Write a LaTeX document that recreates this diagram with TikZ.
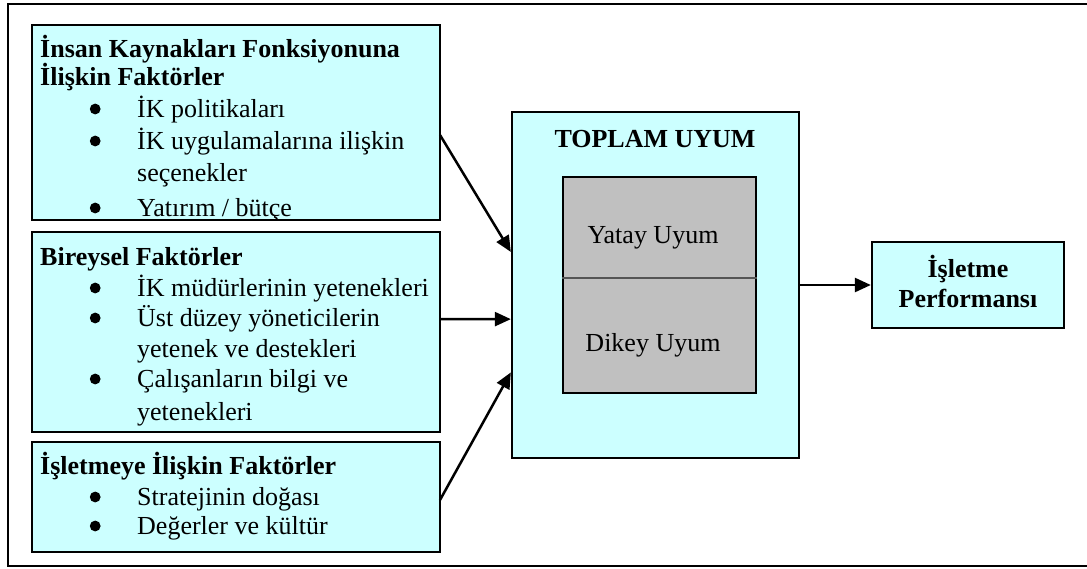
\documentclass[tikz,border=0pt]{standalone}
\usepackage{fontspec}
\setmainfont{Liberation Serif}
\usetikzlibrary{arrows.meta,calc}

\definecolor{paleCyan}{HTML}{CCFFFF}
\definecolor{fitGray}{HTML}{C0C0C0}
\definecolor{rule}{HTML}{555555}

% list helpers: round bullet centred 55pt in, item text 97pt in
\newcommand{\dotmark}{\raisebox{2.6pt}{\tikz\fill (0pt,0pt) circle (5.4pt);}}
\newcommand{\bitem}{\hspace*{55pt}\makebox[0pt]{\dotmark}\hspace*{42pt}}
\newcommand{\bcont}{\hspace*{97pt}}
\newcommand{\bodyfont}{\fontsize{26}{31}\selectfont}

\tikzset{
  panel/.style={fill=paleCyan, inner sep=0pt, outer sep=0pt},
  panelline/.style={draw=black, line width=2.5pt},
  box/.style={draw=black, fill=paleCyan, line width=2.3pt, inner sep=0pt},
  fitbox/.style={draw=black, fill=fitGray, line width=2.3pt, inner sep=0pt},
  label/.style={anchor=base, inner sep=0pt, font=\bodyfont},
  listtext/.style={anchor=base west, inner sep=0pt},
  flow/.style={line width=2.5pt, -{Triangle[length=16pt,width=14pt]}}
}

\begin{document}
\begin{tikzpicture}[x=1pt, y=-1pt]
\useasboundingbox (0,0) rectangle (1087,568);

% outer frame (runs past the right edge)
\draw[line width=2pt] (8,4) rectangle (1110,566);

% ---- left column: factor panels ----
\node[panel, minimum width=408pt, minimum height=195pt] (b1) at (236,122.5) {};
\node[panel, minimum width=408pt, minimum height=200pt] (b2) at (236,332) {};
\node[panel, minimum width=408pt, minimum height=110pt] (b3) at (236,497) {};

\begin{scope}
  \clip (b1.north west) rectangle (b1.south east);
  \node[listtext] (t1) at ($(b1.north west)+(8,32)$) {\parbox[t]{400pt}{\bodyfont
    \textbf{İnsan Kaynakları Fonksiyonuna}\\[-3pt]
    \textbf{İlişkin Faktörler}\\[1pt]
    \bitem İK politikaları\\[1pt]
    \bitem İK uygulamalarına ilişkin\\[1pt]
    \bcont seçenekler\\[4pt]
    \bitem Yatırım / bütçe}};
\end{scope}
\draw[panelline] (b1.north west) rectangle (b1.south east);

\begin{scope}
  \clip (b2.north west) rectangle (b2.south east);
  \node[listtext] (t2) at ($(b2.north west)+(8,33)$) {\parbox[t]{400pt}{\bodyfont
    \textbf{Bireysel Faktörler}\\
    \bitem İK müdürlerinin yetenekleri\\[-1pt]
    \bitem Üst düzey yöneticilerin\\
    \bcont yetenek ve destekleri\\[-1pt]
    \bitem Çalışanların bilgi ve\\[2pt]
    \bcont yetenekleri}};
\end{scope}
\draw[panelline] (b2.north west) rectangle (b2.south east);

\node[listtext] (t3) at ($(b3.north west)+(8,32)$) {\parbox[t]{400pt}{\bodyfont
    \textbf{İşletmeye İlişkin Faktörler}\\
    \bitem Stratejinin doğası\\[-2pt]
    \bitem Değerler ve kültür}};
\draw[panelline] (b3.north west) rectangle (b3.south east);

% ---- centre: total fit ----
\node[box, minimum width=287pt, minimum height=346pt] (c) at (655.5,285) {};
\node[label, font=\bodyfont\bfseries] (ctitle) at (655,147) {TOPLAM UYUM};
\node[fitbox, minimum width=193pt, minimum height=216pt] (g) at (659.5,285) {};
\draw[rule, line width=1.4pt]
  ($(g.north west)!0.4676!(g.south west)$) -- ($(g.north east)!0.4676!(g.south east)$);
\node[label] (yatay) at (653,243) {Yatay Uyum};
\node[label] (dikey) at (653,351) {Dikey Uyum};

% ---- right: outcome ----
\node[box, minimum width=192pt, minimum height=86pt] (p) at (968,285) {};
\node[label, font=\fontsize{26}{30}\selectfont\bfseries, align=center] (ptext) at (968,307)
  {İşletme\\Performansı};

% ---- connectors ----
\draw[flow] ($(b1.north east)!0.564!(b1.south east)$) -- ($(c.north west)!0.405!(c.south west)$);
\draw[flow] ($(b2.north east)!0.435!(b2.south east)$) -- ($(c.north west)!0.598!(c.south west)$);
\draw[flow] ($(b3.north east)!0.527!(b3.south east)$) -- ($(c.north west)!0.751!(c.south west)$);
\draw[flow] (c.east) -- (p.west);
\end{tikzpicture}
\end{document}
